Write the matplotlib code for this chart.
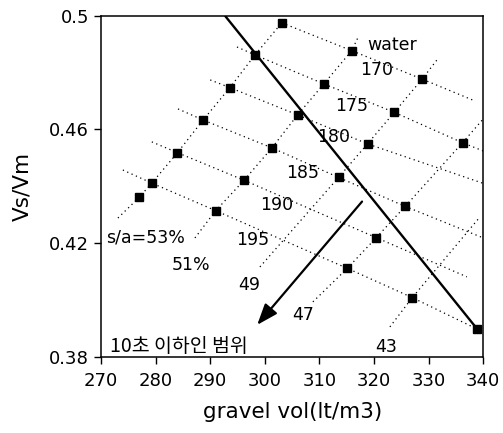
import matplotlib
matplotlib.use("Agg")
import matplotlib.pyplot as plt

# ── data ─────────────────────────────────────────────────────────────────────
# measured points (filled squares)
pt_x = [303.1, 298.2, 293.6, 288.7, 284.0, 279.3, 277.0, 291.0, 296.2, 301.3,
        306.0, 315.9, 310.8, 328.8, 323.7, 318.8, 336.2, 313.5, 325.7, 320.4,
        315.1, 327.0, 338.9]
pt_y = [0.4975, 0.4862, 0.4747, 0.4633, 0.4518, 0.4411, 0.4361, 0.4314, 0.4421,
        0.4535, 0.4651, 0.4877, 0.4760, 0.4777, 0.4660, 0.4549, 0.4553, 0.4431,
        0.4329, 0.4219, 0.4111, 0.4008, 0.3897]

# constant s/a lines (dotted, running up to the right)
sa_lines = {
    "53": ([273.1, 277.0, 279.3, 284.0, 288.7, 293.6, 298.2, 303.1],
           [0.4288, 0.4361, 0.4411, 0.4518, 0.4633, 0.4747, 0.4862, 0.4975]),
    "51": ([287.2, 291.0, 296.2, 301.3, 306.0, 310.8, 315.9, 317.1],
           [0.4218, 0.4314, 0.4421, 0.4535, 0.4651, 0.4760, 0.4877, 0.4925]),
    "49": ([299.1, 313.5, 318.8, 323.7, 328.8, 331.5],
           [0.4116, 0.4431, 0.4549, 0.4660, 0.4777, 0.4844]),
    "47": ([308.8, 315.1, 320.4, 325.7, 336.2, 340.0],
           [0.3993, 0.4111, 0.4219, 0.4329, 0.4553, 0.4637]),
    "43": ([322.9, 327.0, 339.4],
           [0.3905, 0.4008, 0.4292]),
}

# constant water lines (dotted, running down to the right)
water_lines = {
    "170": ([303.1, 315.9, 328.8, 338.1],
            [0.4975, 0.4877, 0.4777, 0.4703]),
    "175": ([294.9, 298.2, 310.8, 323.7, 336.2, 340.0],
            [0.4890, 0.4862, 0.4760, 0.4660, 0.4553, 0.4524]),
    "180": ([290.0, 293.6, 306.0, 318.8, 340.0],
            [0.4774, 0.4747, 0.4651, 0.4549, 0.4410]),
    "185": ([284.1, 288.7, 301.3, 313.5, 325.7, 340.0],
            [0.4672, 0.4633, 0.4535, 0.4431, 0.4329, 0.4218]),
    "190": ([279.3, 284.0, 296.2, 320.4, 337.0],
            [0.4556, 0.4518, 0.4421, 0.4219, 0.4081]),
    "195": ([274.0, 279.3, 291.0, 315.1, 327.0, 338.9],
            [0.4457, 0.4411, 0.4314, 0.4111, 0.4008, 0.3897]),
}

# boundary of the "10 s or less" region and its arrow
bound_x = [292.7, 338.9]
bound_y = [0.5000, 0.3897]
arrow_from = (317.8, 0.4346)
arrow_to = (298.6, 0.3912)

# in-plot labels: text, x, y
labels = [
    ("water", 323.4, 0.4897),
    ("170", 320.4, 0.4809),
    ("175", 315.9, 0.4682),
    ("180", 312.6, 0.4573),
    ("185", 306.9, 0.4446),
    ("190", 302.1, 0.4334),
    ("195", 297.7, 0.4211),
    ("s/a=53%", 278.2, 0.4218),
    ("51%", 286.5, 0.4123),
    ("49", 297.1, 0.4052),
    ("47", 307.0, 0.3947),
    ("43", 322.2, 0.3834),
]
region_label = "10초 이하인 범위"

x_ticks = [270, 280, 290, 300, 310, 320, 330, 340]
y_ticks = [0.38, 0.42, 0.46, 0.50]
y_ticklabels = ["0.38", "0.42", "0.46", "0.5"]

# ── figure ───────────────────────────────────────────────────────────────────
plt.rcParams["font.family"] = ["DejaVu Sans"]
fig = plt.figure(figsize=(5.03, 4.33), dpi=100)
ax = fig.add_axes([0.2008, 0.1762, 0.7600, 0.7875])

DOT = (0, (1, 2.8))
for xs, ys in sa_lines.values():
    ax.plot(xs, ys, color="black", lw=0.9, linestyle=DOT)
for xs, ys in water_lines.values():
    ax.plot(xs, ys, color="black", lw=0.9, linestyle=DOT)

ax.plot(bound_x, bound_y, color="black", lw=1.7, solid_capstyle="butt")
ax.plot(pt_x, pt_y, linestyle="none", marker="s", ms=5.5, color="black")

ax.annotate("", xy=arrow_to, xytext=arrow_from,
            arrowprops=dict(arrowstyle="-|>,head_length=0.8,head_width=0.3",
                            color="black", lw=1.6, mutation_scale=16,
                            shrinkA=0, shrinkB=0))

for txt, x, y in labels:
    ax.text(x, y, txt, ha="center", va="center", fontsize=12.5)
ax.text(271.6, 0.3836, region_label, ha="left", va="center", fontsize=14,
        family=["Noto Sans CJK KR", "DejaVu Sans"])

ax.set_xlim(270, 340)
ax.set_ylim(0.38, 0.50)
ax.set_xticks(x_ticks)
ax.set_yticks(y_ticks)
ax.set_yticklabels(y_ticklabels)
ax.tick_params(direction="out", length=5, width=1, labelsize=13, colors="black")
ax.tick_params(axis="x", pad=6)
for s in ax.spines.values():
    s.set_linewidth(1.1)

ax.set_xlabel("gravel vol(lt/m3)", fontsize=15.5, labelpad=9)
ax.set_ylabel("Vs/Vm", fontsize=15.5, labelpad=12)

fig.savefig("out.png", dpi=100)
